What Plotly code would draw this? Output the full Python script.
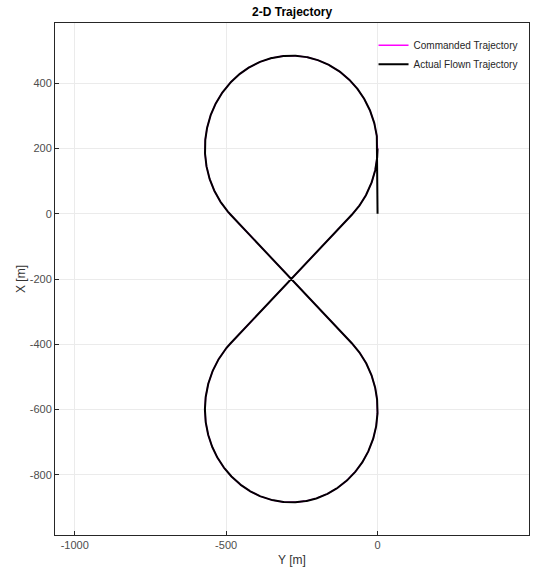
import numpy as np
import plotly.graph_objects as go

# Figure-eight geometry (Y east, X north), metres
loop_center_y = [-285.0, -285.0]      # upper loop, lower loop
loop_center_x = [200.0, -600.0]
loop_radius = 285.0
crossing_y, crossing_x = -285.0, -200.0

# Straight climb-out leg flown before joining the pattern
start_leg_y = [0.0, 0.0]
start_leg_x = [0.0, 200.0]

x_ticks = [-1000, -500, 0, 500]
x_tick_text = ["-1000", "-500", "0", "500"]
y_ticks = [-800, -600, -400, -200, 0, 200, 400]
y_tick_text = ["-800", "-600", "-400", "-200", "0", "200", "400"]


def arc(cy, cx, r, a0, a1, step=0.5):
    n = int(abs(a1 - a0) / step) + 1
    a = np.radians(np.linspace(a0, a1, n))
    return cy + r * np.cos(a), cx + r * np.sin(a)


def pattern():
    d = abs(loop_center_x[0] - crossing_x)
    half = np.degrees(np.arccos(loop_radius / d))
    uy, ux = loop_center_y[0], loop_center_x[0]
    ly, lx = loop_center_y[1], loop_center_x[1]
    # upper loop counter-clockwise from its east point to the south-west tangent
    a1y, a1x = arc(uy, ux, loop_radius, 0.0, 270.0 - half)
    # lower loop clockwise from the north-east tangent to the north-west tangent
    a2y, a2x = arc(ly, lx, loop_radius, 90.0 - half, -270.0 + half)
    # back onto the upper loop at the south-east tangent, up to the east point
    a3y, a3x = arc(uy, ux, loop_radius, -90.0 + half, 0.0)
    ys = np.concatenate([a1y, a2y, a3y])
    xs = np.concatenate([a1x, a2x, a3x])
    return ys, xs


cmd_y, cmd_x = pattern()
act_y = np.concatenate([start_leg_y, cmd_y])
act_x = np.concatenate([start_leg_x, cmd_x])

fig = go.Figure()
fig.add_trace(go.Scatter(x=cmd_y, y=cmd_x, mode="lines",
                         line=dict(color="#ff00ff", width=1.4),
                         name="Commanded Trajectory"))
fig.add_trace(go.Scatter(x=act_y, y=act_x, mode="lines",
                         line=dict(color="#000000", width=2),
                         name="Actual Flown Trajectory"))

font_family = "Liberation Sans, Arial, sans-serif"
axis_common = dict(
    showline=True, mirror=True, linecolor="#262626", linewidth=1,
    ticks="inside", ticklen=4, tickcolor="#262626",
    showgrid=True, gridcolor="#ebebeb", gridwidth=1,
    zeroline=False,
    tickfont=dict(family=font_family, size=11, color="#4d4d4d"),
)

fig.update_layout(
    width=538, height=573,
    margin=dict(l=55, r=8, t=23, b=35),
    paper_bgcolor="white", plot_bgcolor="white",
    title=dict(text="<b>2-D Trajectory</b>", x=0.543, xanchor="center",
               y=0.979, yanchor="middle",
               font=dict(family=font_family, size=12, color="#000000")),
    xaxis=dict(range=[-1065, 500], tickvals=x_ticks, ticktext=x_tick_text,
               title=dict(text="Y [m]", standoff=5,
                          font=dict(family=font_family, size=12, color="#333333")),
               **axis_common),
    yaxis=dict(range=[-985, 585], tickvals=y_ticks, ticktext=y_tick_text,
               title=dict(text="X [m]", standoff=1,
                          font=dict(family=font_family, size=12, color="#333333")),
               **axis_common),
    legend=dict(x=0.672, y=0.985, xanchor="left", yanchor="top",
                bgcolor="rgba(255,255,255,0)", borderwidth=0,
                font=dict(family=font_family, size=10, color="#262626"),
                itemwidth=30, tracegroupgap=0),
    showlegend=True,
)

fig.write_html("out.html")
